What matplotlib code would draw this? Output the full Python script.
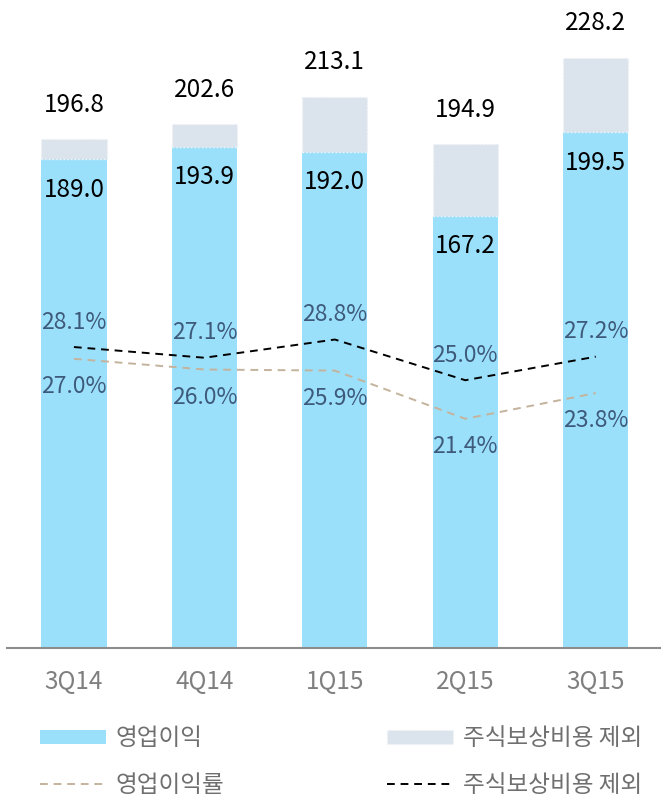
import matplotlib.pyplot as plt
from matplotlib.patches import Patch
from matplotlib.lines import Line2D

plt.rcParams['font.family'] = ['Noto Sans CJK KR', 'DejaVu Sans']

quarters = ['3Q14', '4Q14', '1Q15', '2Q15', '3Q15']
op_income = [189.0, 193.9, 192.0, 167.2, 199.5]
op_income_ex_sbc = [196.8, 202.6, 213.1, 194.9, 228.2]
margin = [27.0, 26.0, 25.9, 21.4, 23.8]
margin_ex_sbc = [28.1, 27.1, 28.8, 25.0, 27.2]

blue = '#9be0fb'
grey_blue = '#dbe3ec'
tan = '#c4b39c'
label_col = '#3e5a7a'

fig = plt.figure(figsize=(6.61, 7.99), dpi=100)
ax = fig.add_axes([7 / 661, 151 / 799, 654 / 661, 648 / 799])
x = range(len(quarters))
extra = [t - b for t, b in zip(op_income_ex_sbc, op_income)]

ax.bar(x, op_income, width=0.5, color=blue, zorder=2)
ax.bar(x, extra, bottom=op_income, width=0.5, color=grey_blue,
       edgecolor='#f2f5f8', linestyle=':', linewidth=1, zorder=2)

for i in x:
    ax.annotate(f'{op_income_ex_sbc[i]:.1f}', (i, op_income_ex_sbc[i]),
                xytext=(0, 25), textcoords='offset points', ha='center',
                va='center', fontsize=17.5, color='black')
    ax.annotate(f'{op_income[i]:.1f}', (i, op_income[i]),
                xytext=(0, -22), textcoords='offset points', ha='center',
                va='center', fontsize=17.5, color='black')

ax.set_xlim(-0.513, 4.5)
ax.set_ylim(0, 250.7)
ax.set_yticks([])
ax.set_xticks(list(x))
ax.set_xticklabels(quarters, fontsize=17.5, color='#7f7f7f')
ax.tick_params(axis='x', length=0, pad=15)
for s in ['top', 'left', 'right']:
    ax.spines[s].set_visible(False)
ax.spines['bottom'].set_color('#8c8c8c')
ax.spines['bottom'].set_linewidth(1.5)

ax2 = ax.twinx()
ax2.set_ylim(0, 60.5)
ax2.axis('off')
ax2.plot(x, margin_ex_sbc, color='black', linestyle=(0, (4, 3)), linewidth=1.4)
ax2.plot(x, margin, color=tan, linestyle=(0, (4, 3)), linewidth=1.4)
for i in x:
    ax2.annotate(f'{margin_ex_sbc[i]:.1f}%', (i, margin_ex_sbc[i]),
                 xytext=(0, 18), textcoords='offset points', ha='center',
                 va='center', fontsize=16.5, color=label_col)
    ax2.annotate(f'{margin[i]:.1f}%', (i, margin[i]),
                 xytext=(0, -20), textcoords='offset points', ha='center',
                 va='center', fontsize=16.5, color=label_col)

handles = [
    Patch(facecolor=blue, edgecolor='none'),
    Line2D([], [], color=tan, linestyle=(0, (4, 3)), linewidth=1.4),
    Patch(facecolor=grey_blue, edgecolor='#f2f5f8', linestyle=':'),
    Line2D([], [], color='black', linestyle=(0, (4, 3)), linewidth=1.4),
]
labels = ['영업이익', '영업이익률', '주식보상비용 제외', '주식보상비용 제외']
leg = fig.legend(handles, labels, loc='upper left', ncol=2,
                 bbox_to_anchor=(40 / 661, 1 - 727 / 799), frameon=False,
                 fontsize=17, handlelength=2.8, handleheight=0.55,
                 handletextpad=0.4, columnspacing=6.9, labelspacing=1.0,
                 borderpad=0, borderaxespad=0)
for t in leg.get_texts():
    t.set_color('#6f6f6f')

fig.savefig('out.png', dpi=100)
